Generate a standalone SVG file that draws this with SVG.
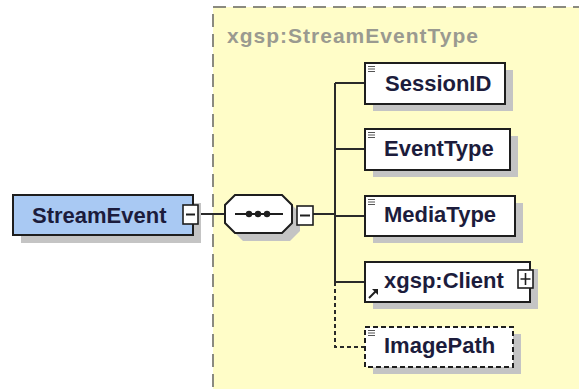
<svg xmlns="http://www.w3.org/2000/svg" width="579" height="389" viewBox="0 0 579 389">
<style>
.lbl{font-family:"Liberation Sans",Arial,sans-serif;font-weight:bold;font-size:22px;fill:#1c1c3c}
.ttl{font-family:"Liberation Sans",Arial,sans-serif;font-weight:bold;font-size:21px;fill:#9a9a90}
.box{fill:#ffffff;stroke:#1e1e1e;stroke-width:2}
.shd{fill:#c4c4c4}
.ln{stroke:#2a2a2a;stroke-width:2;fill:none}
.dl{stroke:#2a2a2a;stroke-width:2;fill:none;stroke-dasharray:4,3}
.ic{stroke:#555;stroke-width:1}
.tg{fill:#ffffff;stroke:#1e1e1e;stroke-width:1.6}
</style>
<rect x="0" y="0" width="579" height="389" fill="#ffffff"/>
<g id="container">
<rect x="213" y="7" width="400" height="420" fill="#fffdc8" stroke="#8a8a80" stroke-width="2" stroke-dasharray="13,7"/>
<text class="ttl" x="227" y="43" textLength="251">xgsp:StreamEventType</text>
</g>
<g id="connectors">
<line class="ln" x1="198" y1="214" x2="225" y2="214"/>
<line class="ln" x1="292" y1="214" x2="297" y2="214"/>
<line class="ln" x1="313" y1="214" x2="335" y2="214"/>
<line class="ln" x1="335" y1="83" x2="335" y2="282"/>
<line class="ln" x1="335" y1="83" x2="365" y2="83"/>
<line class="ln" x1="335" y1="149" x2="365" y2="149"/>
<line class="ln" x1="335" y1="216" x2="365" y2="216"/>
<line class="ln" x1="335" y1="282" x2="365" y2="282"/>
<path class="dl" d="M335,282 V347 H365"/>
</g>
<g id="StreamEvent">
<rect class="shd" x="21" y="203" width="180" height="40"/>
<rect x="13" y="195" width="180" height="40" fill="#a9c9f3" stroke="#1e1e1e" stroke-width="2"/>
<text class="lbl" x="32" y="223">StreamEvent</text>
<rect class="tg" x="183" y="205" width="15" height="19"/>
<line x1="186" y1="214.5" x2="195" y2="214.5" stroke="#1e1e1e" stroke-width="2"/>
</g>
<g id="sequence">
<polygon class="shd" points="243,203 290,203 300,213 300,231 290,241 243,241 233,231 233,213"/>
<polygon fill="#ffffff" stroke="#1e1e1e" stroke-width="2" points="235,195 282,195 292,205 292,223 282,233 235,233 225,223 225,205"/>
<line x1="235" y1="214" x2="283" y2="214" stroke="#1e1e1e" stroke-width="2"/>
<circle cx="249" cy="214" r="3.2" fill="#1e1e1e"/>
<circle cx="258" cy="214" r="3.2" fill="#1e1e1e"/>
<circle cx="267" cy="214" r="3.2" fill="#1e1e1e"/>
<rect class="tg" x="297" y="206" width="16" height="19"/>
<line x1="300" y1="215.5" x2="310" y2="215.5" stroke="#1e1e1e" stroke-width="2"/>
</g>
<g id="SessionID">
<rect class="shd" x="373" y="70" width="140" height="41"/>
<rect class="box" x="365" y="63" width="140" height="41"/>
<path class="ic" d="M368,66.5h7M368,69h7M368,71.5h7"/>
<text class="lbl" x="385" y="91">SessionID</text>
</g>
<g id="EventType">
<rect class="shd" x="373" y="136" width="145" height="41"/>
<rect class="box" x="365" y="129" width="145" height="41"/>
<path class="ic" d="M368,132.5h7M368,135h7M368,137.5h7"/>
<text class="lbl" x="384" y="156">EventType</text>
</g>
<g id="MediaType">
<rect class="shd" x="373" y="203" width="150" height="40"/>
<rect class="box" x="365" y="196" width="150" height="40"/>
<path class="ic" d="M368,199.5h7M368,202h7M368,204.5h7"/>
<text class="lbl" x="384" y="222">MediaType</text>
</g>
<g id="Client">
<rect class="shd" x="373" y="269" width="165" height="40"/>
<rect class="box" x="365" y="262" width="165" height="40"/>
<path d="M369,298 L376,291" stroke="#1e1e1e" stroke-width="2"/>
<polygon points="378,289 378,295 372,289" fill="#1e1e1e"/>
<text class="lbl" x="384" y="288">xgsp:Client</text>
<rect class="tg" x="518" y="270" width="15" height="18"/>
<path d="M520.5,279h10M525.5,273v12" stroke="#1e1e1e" stroke-width="1.6"/>
</g>
<g id="ImagePath">
<rect class="shd" x="373" y="334" width="148" height="40"/>
<rect x="365" y="327" width="148" height="40" fill="#ffffff" stroke="#1e1e1e" stroke-width="2" stroke-dasharray="5,3"/>
<path class="ic" d="M368,330.5h7M368,333h7M368,335.5h7"/>
<text class="lbl" x="384" y="353">ImagePath</text>
</g>
</svg>
